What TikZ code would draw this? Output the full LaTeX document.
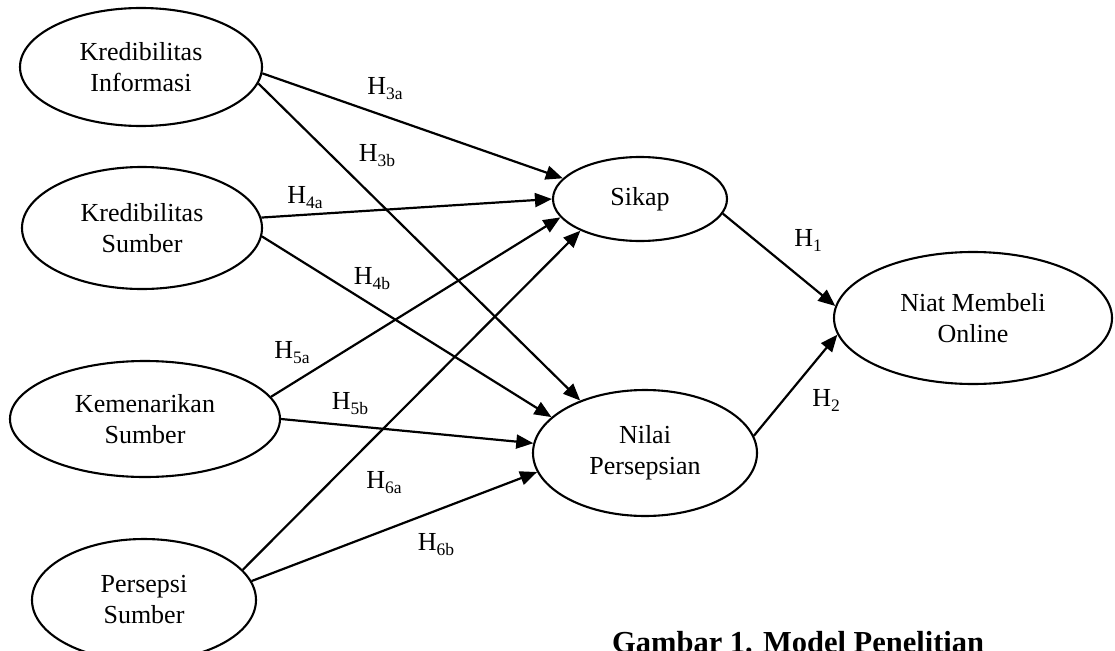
\documentclass[tikz,border=0pt]{standalone}
\usepackage{fontspec}
\setmainfont{Liberation Serif}
\usetikzlibrary{arrows.meta,shapes.geometric}

% hypothesis label: H with a lowered, smaller index
\newcommand\hyplabel[1]{H\raisebox{-5pt}{\fontsize{17.5}{18}\selectfont #1}}

\begin{document}
\begin{tikzpicture}[x=1pt,y=-1pt,
  construct/.style={draw, ellipse, line width=2.1pt, inner sep=0pt, align=center,
    font=\fontsize{26}{31}\selectfont},
  link/.style={-{Triangle[length=17pt,width=14pt]}, line width=2.2pt},
  hlabel/.style={font=\fontsize{26}{31}\selectfont, inner sep=0pt}
]
\useasboundingbox (0,0) rectangle (1115,650);
\clip (0,0) rectangle (1115,650);

% exogenous constructs
\node[construct, minimum width=242pt, minimum height=118pt] (ki) at (141,67) {Kredibilitas\\Informasi};
\node[construct, minimum width=240pt, minimum height=122pt] (ks) at (142,228) {Kredibilitas\\Sumber};
\node[construct, minimum width=270pt, minimum height=116pt] (kem) at (145,419) {Kemenarikan\\Sumber};
\node[construct, minimum width=224pt, minimum height=122pt] (ps) at (144,600) {Persepsi\\Sumber};

% mediators
\node[construct, minimum width=174pt, minimum height=84pt] (sikap) at (640,199) {Sikap};
\node[construct, minimum width=224pt, minimum height=126pt] (nilai) at (645,453) {Nilai\\Persepsian};

% outcome
\node[construct, minimum width=278pt, minimum height=132pt] (niat) at (973,318) {Niat Membeli\\Online};

% paths
\draw[link] (ki.-3.75) -- (sikap.165);
\draw[link] (ki.-8.6) -- (nilai.141.6);
\draw[link] (ks.5.3) -- (sikap.180.7);
\draw[link] (ks.-4.4) -- (nilai.159.2);
\draw[link] (kem.10.6) -- (sikap.193.7);
\draw[link] (kem.0.4) -- (nilai.175.8);
\draw[link] (ps.17.6) -- (sikap.208.7);
\draw[link] (ps.10.4) -- (nilai.190.4);
\draw[link] (sikap.-10.4) -- (niat.175.5);
\draw[link] (nilai.9.3) -- (niat.187.2);

% hypothesis labels
\node[hlabel] (h3a) at (385,89) {\hyplabel{3a}};
\node[hlabel] (h3b) at (377,156) {\hyplabel{3b}};
\node[hlabel] (h4a) at (305,198) {\hyplabel{4a}};
\node[hlabel] (h4b) at (372,279) {\hyplabel{4b}};
\node[hlabel] (h5a) at (292,353) {\hyplabel{5a}};
\node[hlabel] (h5b) at (350,404) {\hyplabel{5b}};
\node[hlabel] (h6a) at (384,483) {\hyplabel{6a}};
\node[hlabel] (h6b) at (436,545) {\hyplabel{6b}};
\node[hlabel] (h1) at (808,240) {\hyplabel{1}};
\node[hlabel] (h2) at (826,400) {\hyplabel{2}};

% caption
\node[anchor=base west, inner sep=0pt, font=\fontsize{30.5}{36}\selectfont\bfseries] (caption) at (612,652) {Gambar 1. Model Penelitian};
\end{tikzpicture}
\end{document}
